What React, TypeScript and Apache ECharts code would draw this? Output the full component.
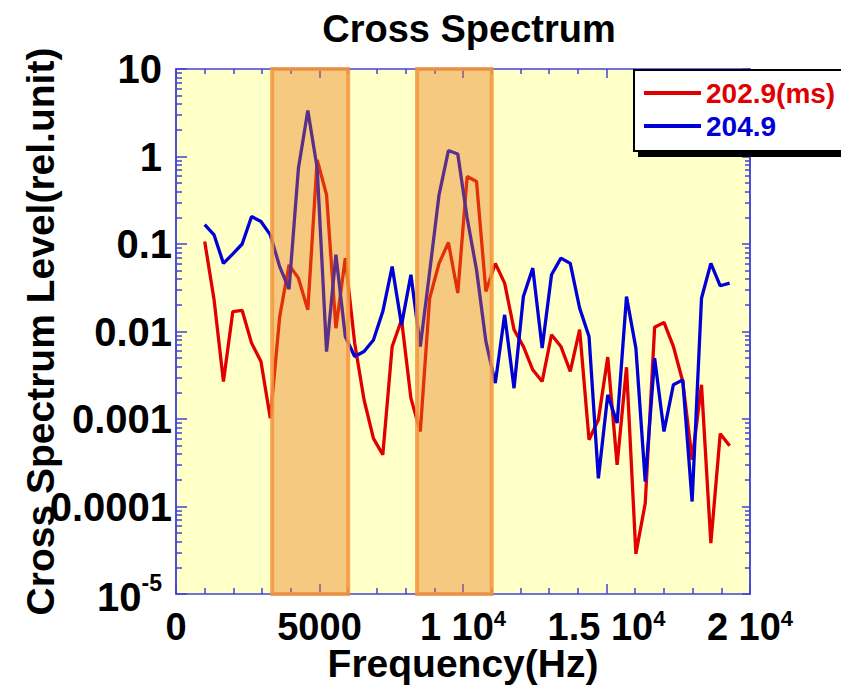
import React, { useEffect, useRef } from 'react';
import * as echarts from 'echarts';

// Frequencies (Hz) of the spectral bins
const freqHz = [
  1000, 1327, 1653, 1980, 2306, 2633, 2960, 3286, 3613, 3939,
  4266, 4593, 4919, 5246, 5572, 5899, 6226, 6552, 6879, 7205,
  7532, 7859, 8185, 8512, 8838, 9165, 9492, 9818, 10145, 10471,
  10798, 11125, 11451, 11778, 12104, 12431, 12758, 13084, 13411, 13737,
  14064, 14391, 14717, 15044, 15370, 15697, 16024, 16350, 16677, 17003,
  17330, 17657, 17983, 18310, 18636, 18963, 19290,
];

// Cross spectrum level, 202.9 ms (red)
const level2029 = [
  0.107, 0.023, 0.00268, 0.0169, 0.0174, 0.00737, 0.00454, 0.00102, 0.0148, 0.0578,
  0.0407, 0.0177, 0.916, 0.365, 0.0109, 0.069, 0.00736, 0.00166, 0.0006, 0.00039,
  0.00675, 0.0136, 0.00173, 0.00072, 0.024, 0.06, 0.104, 0.0275, 0.59, 0.518,
  0.0287, 0.06, 0.0357, 0.0105, 0.00675, 0.00365, 0.00268, 0.00917, 0.00675, 0.00349,
  0.0105, 0.00058, 0.00098, 0.0051, 0.0003, 0.0039, 0.0000288, 0.000109, 0.0112, 0.0127,
  0.00675, 0.00268, 0.000342, 0.00246, 0.0000381, 0.00068, 0.000494,
];

// Cross spectrum level, 204.9 (blue)
const level2049 = [
  0.166, 0.127, 0.06, 0.077, 0.1, 0.206, 0.181, 0.127, 0.055, 0.0305,
  0.736, 3.36, 0.74, 0.0059, 0.0753, 0.00877, 0.00518, 0.0059, 0.008, 0.0169,
  0.0553, 0.0119, 0.0445, 0.00675, 0.048, 0.365, 1.17, 1.07, 0.198, 0.0507,
  0.0077, 0.00257, 0.0155, 0.00225, 0.0251, 0.053, 0.00645, 0.0445, 0.069, 0.06,
  0.0185, 0.00877, 0.00021, 0.00189, 0.0009, 0.0251, 0.00645, 0.000193, 0.00496, 0.00072,
  0.00246, 0.0028, 0.000114, 0.024, 0.06, 0.0333, 0.0357,
];

const seriesNames = ['202.9(ms)', '204.9'];
const bandsHz = [
  [3350, 6000],
  [8400, 11000],
];
const xTickLabels = ['0', '5000', '1 10^4', '1.5 10^4', '2 10^4'];
const yTickLabels = ['10^-5', '0.0001', '0.001', '0.01', '0.1', '1', '10'];
const Y_MIN = 0.00001;
const Y_MAX = 10;

const FONT = '"Liberation Sans", Arial, Helvetica, sans-serif';
const RED = '#E00000';
const BLUE = '#0000D6';
const AXIS_BLUE = '#4343DA';

const yMinorTicks: number[] = [];
for (let e = -5; e <= 0; e++) {
  for (let m = 2; m <= 9; m++) {
    yMinorTicks.push(Number((m * Math.pow(10, e)).toPrecision(3)));
  }
}

const baseTxt = { fontFamily: FONT, fontWeight: 'bold' as const, color: '#000' };

function xLabel(v: number) {
  const idx = Math.round(v / 5000);
  const s = xTickLabels[idx] ?? '';
  const parts = s.split('^');
  if (parts.length === 2) return `{b|${parts[0]}}{s|${parts[1]}}`;
  return `{b|${s}}`;
}

function yLabel(v: number) {
  const e = Math.round(Math.log10(v));
  const s = yTickLabels[e + 5] ?? '';
  const parts = s.split('^');
  if (parts.length === 2) return `{b|${parts[0]}}{t|${parts[1]}}`;
  if (s.startsWith('0.')) return `{p|${s}}`;
  return `{q|${s}}`;
}

export default function App() {
  const ref = useRef<HTMLDivElement>(null);
  useEffect(() => {
    if (!ref.current) return;
    const chart = echarts.init(ref.current, undefined, { renderer: 'svg' });
    const tickLine = { color: AXIS_BLUE, width: 1.5 };
    const axisLine = { show: true, lineStyle: { color: AXIS_BLUE, width: 1.5 } };
    const xCommon = {
      type: 'value' as const,
      min: 0,
      max: 20000,
      interval: 5000,
      axisLine,
      splitLine: { show: false },
      minorSplitLine: { show: false },
    };
    const yCommon = {
      type: 'log' as const,
      logBase: 10,
      min: Y_MIN,
      max: Y_MAX,
      axisLine,
      splitLine: { show: false },
    };
    chart.setOption({
      animation: false,
      backgroundColor: '#fff',
      title: {
        text: 'Cross Spectrum',
        left: 464,
        textAlign: 'center',
        top: 5,
        textStyle: { ...baseTxt, fontSize: 38 },
      },
      legend: {
        orient: 'vertical',
        left: 634,
        top: 70,
        data: [
          { name: seriesNames[0], textStyle: { color: RED } },
          { name: seriesNames[1], textStyle: { color: BLUE } },
        ],
        icon: 'rect',
        itemWidth: 57,
        itemHeight: 4,
        itemGap: 5,
        padding: [9, 12, 11, 10],
        backgroundColor: '#fff',
        borderColor: '#000',
        borderWidth: 2,
        borderRadius: 0,
        shadowColor: '#000',
        shadowOffsetX: 5,
        shadowOffsetY: 5,
        shadowBlur: 0,
        selectedMode: false,
        textStyle: { fontFamily: FONT, fontWeight: 'bold', fontSize: 28, lineHeight: 28 },
      },
      grid: {
        left: 176,
        top: 69,
        right: 91,
        bottom: 94,
        show: true,
        backgroundColor: '#FFFFC8',
        borderWidth: 0,
        outerBoundsMode: 'none',
      },
      xAxis: [
        {
          ...xCommon,
          position: 'bottom',
          axisTick: { show: true, inside: true, length: 10, lineStyle: tickLine },
          minorTick: { show: true, splitNumber: 5, length: 6, lineStyle: tickLine },
          axisLabel: {
            margin: 13,
            formatter: xLabel,
            rich: {
              b: { ...baseTxt, fontSize: 38, lineHeight: 28, padding: [12, 0, 0, 0] },
              s: { ...baseTxt, fontSize: 22, lineHeight: 22, verticalAlign: 'top' },
            },
          },
          name: 'Frequency(Hz)',
          nameLocation: 'middle',
          nameGap: 56,
          nameMoveOverlap: false,
          nameTextStyle: { ...baseTxt, fontSize: 39, lineHeight: 26 },
        },
        {
          ...xCommon,
          position: 'top',
          axisTick: { show: true, inside: true, length: 9, lineStyle: tickLine },
          minorTick: { show: true, splitNumber: 5, length: 5, lineStyle: tickLine },
          axisLabel: { show: false },
        },
      ],
      yAxis: [
        {
          ...yCommon,
          position: 'left',
          axisTick: { show: true, inside: true, length: 11, lineStyle: tickLine },
          axisLabel: {
            margin: 4,
            formatter: yLabel,
            rich: {
              p: { ...baseTxt, fontSize: 40 },
              q: { ...baseTxt, fontSize: 40, padding: [0, 10, 0, 0] },
              b: { ...baseTxt, fontSize: 40, padding: [6, 0, 0, 0] },
              t: { ...baseTxt, fontSize: 23, verticalAlign: 'top', padding: [0, 10, 0, 0] },
            },
          },
          name: 'Cross Spectrum Level(rel.unit)',
          nameLocation: 'middle',
          nameGap: 116,
          nameMoveOverlap: false,
          nameTextStyle: { ...baseTxt, fontSize: 39 },
        },
        {
          ...yCommon,
          position: 'left',
          axisTick: { show: true, inside: true, length: 6, lineStyle: tickLine, customValues: yMinorTicks },
          axisLabel: { show: false },
        },
        {
          ...yCommon,
          position: 'right',
          axisTick: { show: true, inside: true, length: 8, lineStyle: tickLine },
          axisLabel: { show: false },
        },
        {
          ...yCommon,
          position: 'right',
          axisTick: { show: true, inside: true, length: 5, lineStyle: tickLine, customValues: yMinorTicks },
          axisLabel: { show: false },
        },
      ],
      series: [
        {
          name: seriesNames[0],
          type: 'line',
          xAxisIndex: 0,
          yAxisIndex: 0,
          data: freqHz.map((f, i) => [f, level2029[i]]),
          symbol: 'none',
          color: RED,
          lineStyle: { color: RED, width: 3.3 },
          z: 2,
        },
        {
          name: seriesNames[1],
          type: 'line',
          xAxisIndex: 0,
          yAxisIndex: 0,
          data: freqHz.map((f, i) => [f, level2049[i]]),
          symbol: 'none',
          color: BLUE,
          lineStyle: { color: BLUE, width: 3.3 },
          z: 3,
        },
        {
          name: 'bands',
          type: 'custom',
          xAxisIndex: 0,
          yAxisIndex: 0,
          silent: true,
          z: 6,
          encode: { x: [0, 1] },
          data: bandsHz.map(([a, b]) => [a, b]),
          renderItem: (params: any, api: any) => {
            const p0 = api.coord([api.value(0), Y_MAX]);
            const p1 = api.coord([api.value(1), Y_MIN]);
            return {
              type: 'rect',
              shape: { x: p0[0], y: p0[1], width: p1[0] - p0[0], height: p1[1] - p0[1] },
              style: {
                fill: 'rgba(230,120,20,0.4)',
                stroke: 'rgba(242,150,60,0.85)',
                lineWidth: 4,
              },
            };
          },
        },
      ],
    });
    return () => chart.dispose();
  }, []);
  return (
    <div
      ref={ref}
      style={{ position: 'fixed', left: 0, top: 0, width: 841, height: 688 }}
    />
  );
}
